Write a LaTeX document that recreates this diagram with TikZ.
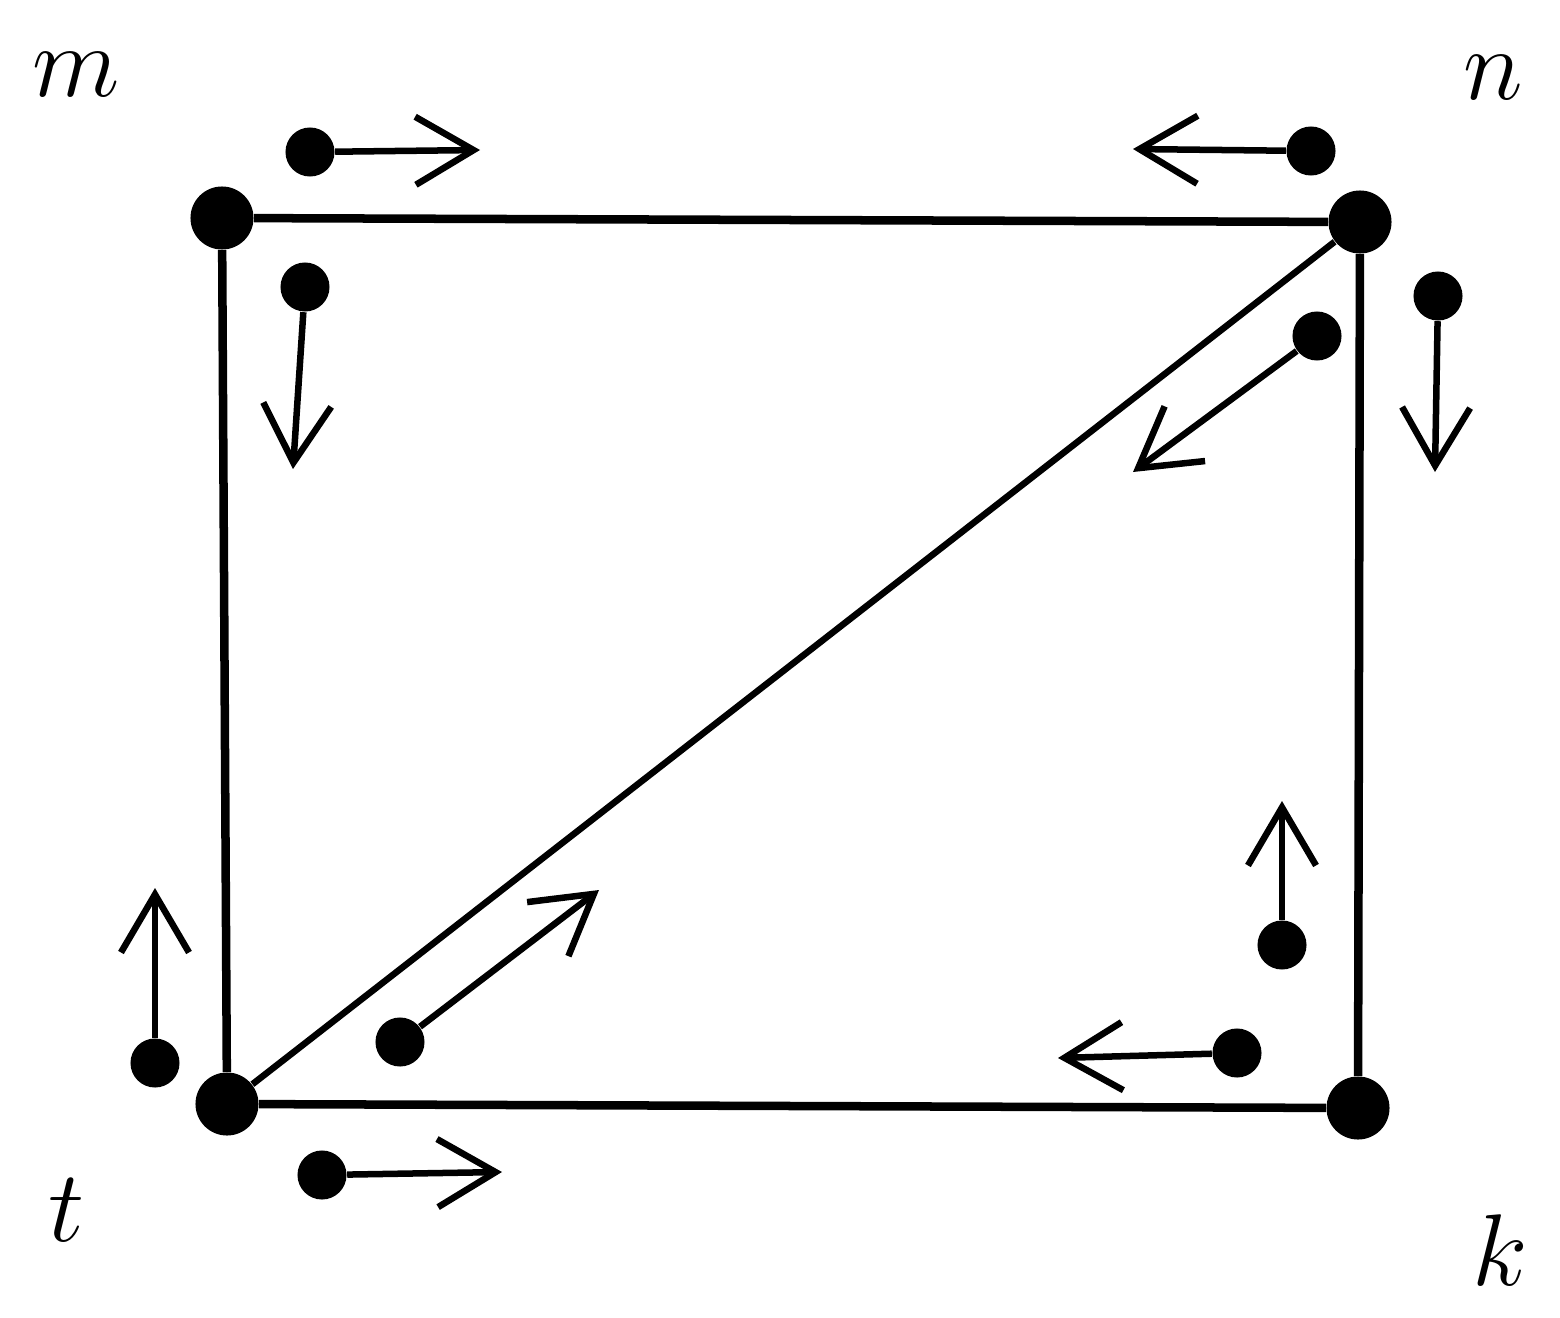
\documentclass[tikz,border=0pt]{standalone}
\usepackage{fix-cm}
\usetikzlibrary{arrows.meta}

\def\lw{0.085cm}

\tikzset{
  corner/.style={circle,fill=black,inner sep=0pt,minimum size=0.63cm},
  pt/.style={circle,fill=black,inner sep=0pt,minimum size=0.49cm},
  force/.style={line width=0.065cm,-{Straight Barb[length=0.58cm,width=0.68cm]}},
  lab/.style={font=\fontsize{29}{34}\selectfont}
}

\begin{document}
\begin{tikzpicture}[x=0.01cm,y=-0.01cm]
\useasboundingbox (0,0) rectangle (1560,1318);
% corners of the frame
\node[corner] (m) at (222,218) {};
\node[corner] (n) at (1360,222) {};
\node[corner] (t) at (227,1104) {};
\node[corner] (k) at (1358,1108) {};
\node[lab] (lm) at (76,75) {$m$};
\node[lab] (ln) at (1493,78) {$n$};
\node[lab] (lt) at (67,1210) {$t$};
\node[lab] (lk) at (1500,1250) {$k$};
\draw[line width=\lw] (m) -- (n) -- (k) -- (t) -- (m);
\draw[line width=0.065cm] (t) -- (n);
% small arrows
\node[pt] (p1) at (310,152) {};
\node[pt] (p2) at (1311,151) {};
\node[pt] (p3) at (305,287) {};
\node[pt] (p4) at (1438,296) {};
\node[pt] (p5) at (1317,336) {};
\node[pt] (p6) at (155,1063) {};
\node[pt] (p7) at (400,1042) {};
\node[pt] (p8) at (1282,945) {};
\node[pt] (p9) at (1237,1053) {};
\node[pt] (p10) at (322,1175) {};
\coordinate (q1) at (480,150);
\coordinate (q2) at (1133,149);
\coordinate (q3) at (293,469);
\coordinate (q4) at (1435,472);
\coordinate (q5) at (1133,472);
\coordinate (q6) at (155,888);
\coordinate (q7) at (599,890);
\coordinate (q8) at (1282,801);
\coordinate (q9) at (1058,1058);
\coordinate (q10) at (502,1172);
\draw[force] (p1) -- (q1);
\draw[force] (p2) -- (q2);
\draw[force] (p3) -- (q3);
\draw[force] (p4) -- (q4);
\draw[force] (p5) -- (q5);
\draw[force] (p6) -- (q6);
\draw[force] (p7) -- (q7);
\draw[force] (p8) -- (q8);
\draw[force] (p9) -- (q9);
\draw[force] (p10) -- (q10);
\end{tikzpicture}
\end{document}
